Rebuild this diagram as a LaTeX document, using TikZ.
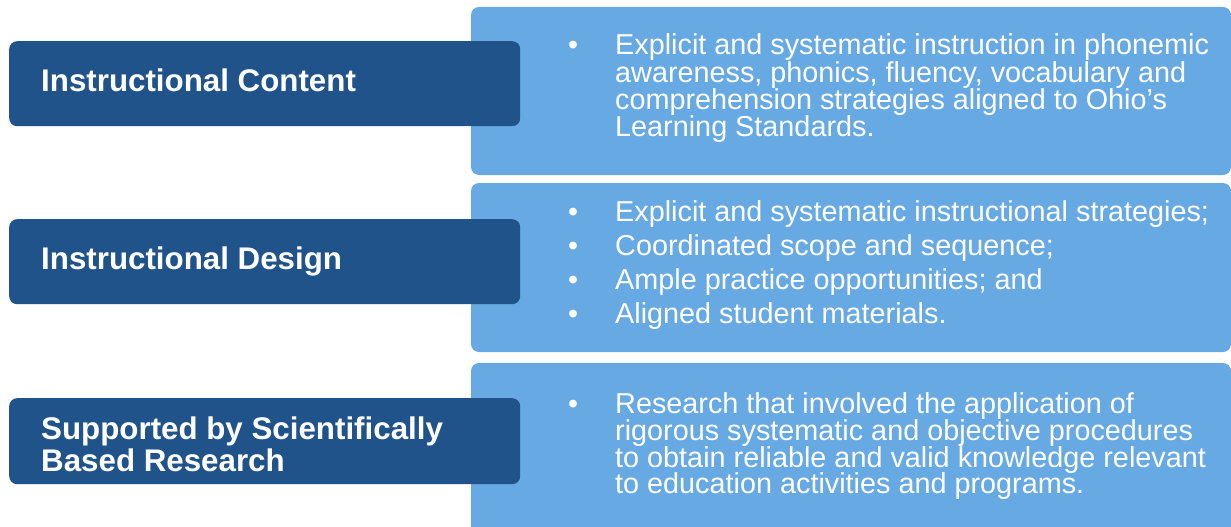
\documentclass[tikz,border=0pt]{standalone}
\usepackage{fontspec}
\setmainfont{Liberation Sans}
\newfontfamily\labfont{Liberation Sans}
\definecolor{darkblue}{HTML}{1F538A}
\definecolor{lightblue}{HTML}{67A9E3}
\tikzset{
  lightbox/.style={fill=lightblue, draw=none, rounded corners=8pt},
  darkbox/.style={fill=darkblue, draw=none, rounded corners=8pt},
  labeltext/.style={anchor=base west, inner sep=0pt, text=white, font=\labfont\bfseries\fontsize{31.3}{32}\selectfont},
  bodytext/.style={anchor=base west, inner sep=0pt, text=white, font=\fontsize{28.8}{27}\selectfont},
  bul/.style={anchor=base, inner sep=0pt, text=white, font=\fontsize{28.5}{27}\selectfont}
}
\begin{document}
\begin{tikzpicture}[x=1pt,y=-1pt]
\useasboundingbox (0,0) rectangle (1231,527);
\clip (0,0) rectangle (1231,527);
% right panels
\fill[lightbox] (471,7) rectangle (1231,175);
\fill[lightbox] (471,183) rectangle (1231,352);
\fill[lightbox] (471,363) rectangle (1231,540);
% left labels
\node[darkbox, minimum width=511pt, minimum height=85pt, anchor=north west] (c) at (9,41) {};
\node[darkbox, minimum width=511pt, minimum height=85pt, anchor=north west] (d) at (9,219) {};
\node[darkbox, minimum width=511pt, minimum height=86pt, anchor=north west] (r) at (9,398) {};
\node[labeltext] (cl) at (41,91) {Instructional Content};
\node[labeltext] (dl) at (41,269) {Instructional Design};
\node[labeltext] (rl1) at (41,439) {Supported by Scientifically};
\node[labeltext] (rl2) at (41,471) {Based Research};
% box 1
\node[bul] (b1) at (573,55) {\textbullet};
\node[bodytext] (t1a) at (615,55) {Explicit and systematic instruction in phonemic};
\node[bodytext] (t1b) at (615,82) {awareness, phonics, fluency, vocabulary and};
\node[bodytext] (t1c) at (615,109) {comprehension strategies aligned to Ohio’s};
\node[bodytext] (t1d) at (615,136) {Learning Standards.};
% box 2
\node[bul] (b2a) at (573,221) {\textbullet};
\node[bul] (b2b) at (573,255) {\textbullet};
\node[bul] (b2c) at (573,289) {\textbullet};
\node[bul] (b2d) at (573,323) {\textbullet};
\node[bodytext] (t2a) at (615,221) {Explicit and systematic instructional strategies;};
\node[bodytext] (t2b) at (615,255) {Coordinated scope and sequence;};
\node[bodytext] (t2c) at (615,289) {Ample practice opportunities; and};
\node[bodytext] (t2d) at (615,323) {Aligned student materials.};
% box 3
\node[bul] (b3) at (573,413) {\textbullet};
\node[bodytext] (t3a) at (615,413) {Research that involved the application of};
\node[bodytext] (t3b) at (615,440) {rigorous systematic and objective procedures};
\node[bodytext] (t3c) at (615,467) {to obtain reliable and valid knowledge relevant};
\node[bodytext] (t3d) at (615,493) {to education activities and programs.};
\end{tikzpicture}
\end{document}
